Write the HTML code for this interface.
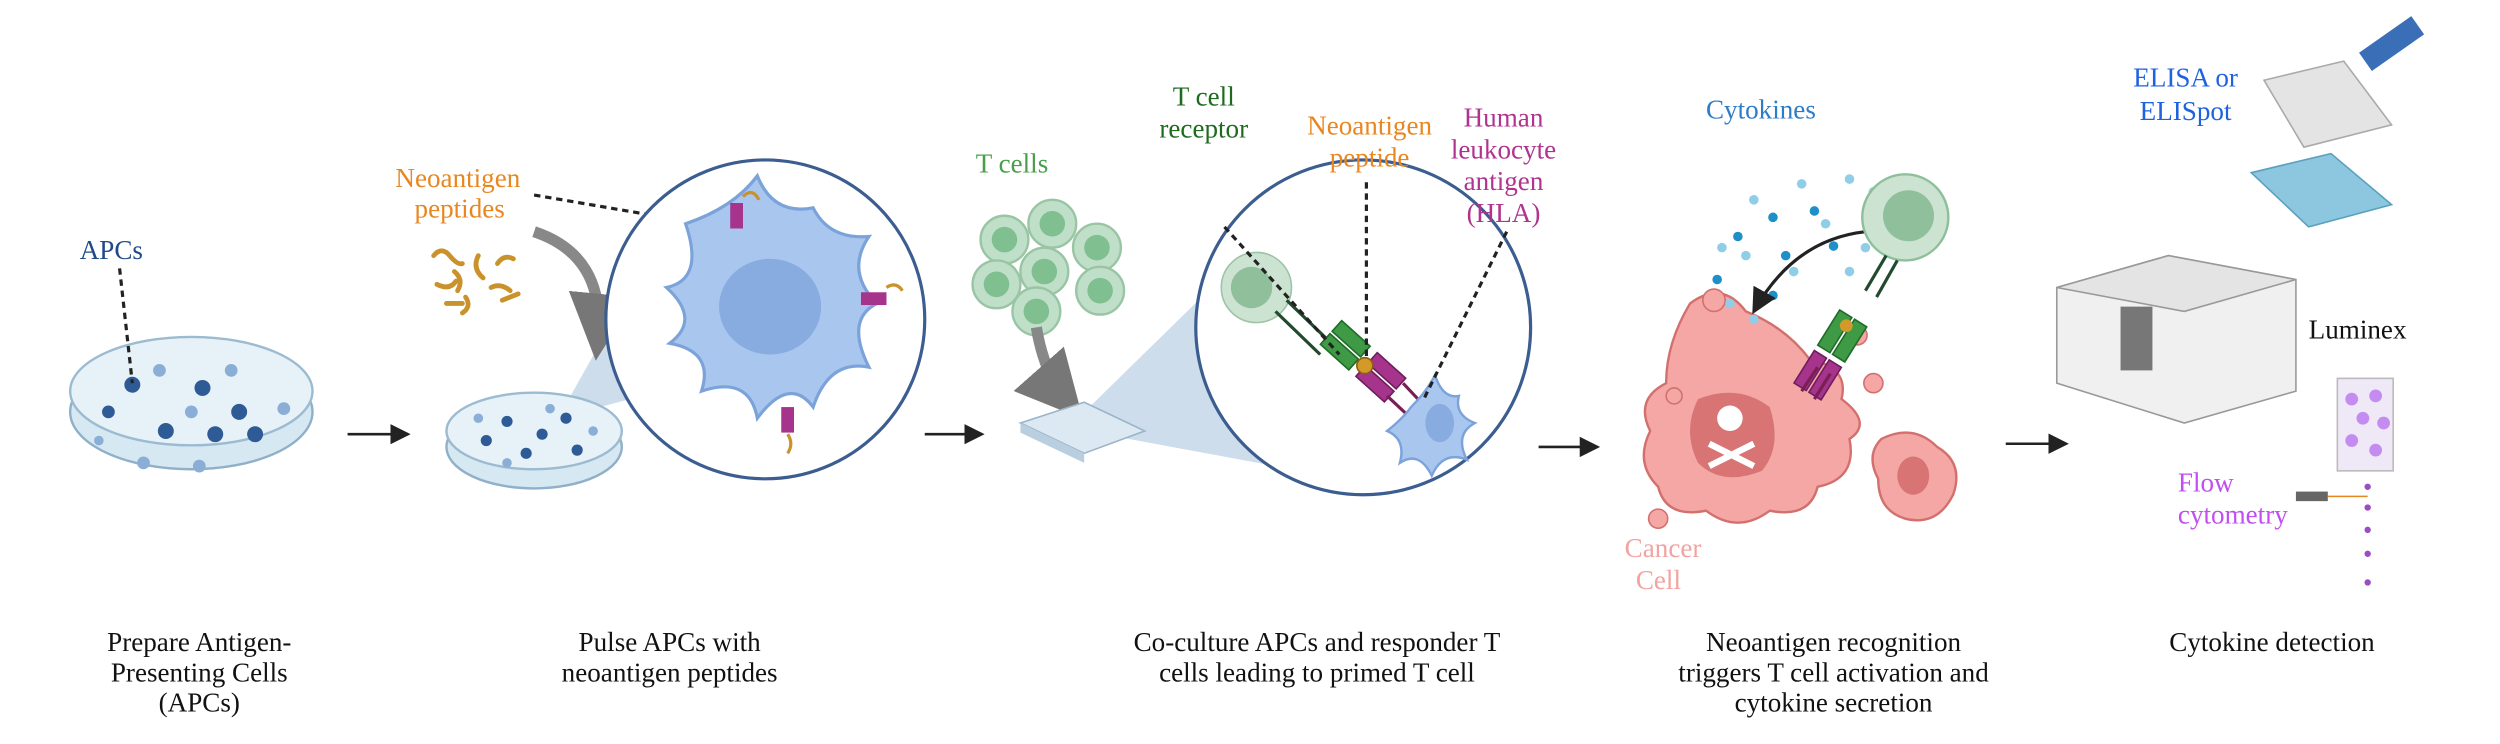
<!DOCTYPE html>
<html><head><meta charset="utf-8"><style>
html,body{margin:0;padding:0;background:#fff}
svg{display:block}
text{font-family:"Liberation Serif",serif}
</style></head><body>
<svg width="2500" height="744" viewBox="0 0 1568 466" xmlns="http://www.w3.org/2000/svg">
<defs>
<marker id="ah" markerWidth="8" markerHeight="8" refX="7" refY="4" orient="auto"><path d="M0,0 L8,4 L0,8 z" fill="#222"/></marker>
<marker id="gh" markerWidth="6" markerHeight="6" refX="4" refY="3" orient="auto"><path d="M0,0 L6,3 L0,6 z" fill="#777"/></marker>
</defs>

<!-- Dish 1 -->
<ellipse cx="120" cy="258" rx="76" ry="36" fill="#d6e8f2" stroke="#8fb0c8" stroke-width="1.5"/>
<ellipse cx="120" cy="245" rx="76" ry="34" fill="#e6f1f8" stroke="#9cbbd1" stroke-width="1.5"/>
<g fill="#2e5a96">
<circle cx="83" cy="241" r="5"/><circle cx="127" cy="243" r="5"/><circle cx="104" cy="270" r="5"/><circle cx="150" cy="258" r="5"/><circle cx="68" cy="258" r="4"/><circle cx="160" cy="272" r="5"/><circle cx="135" cy="272" r="5"/></g>
<g fill="#8aaed6"><circle cx="100" cy="232" r="4"/><circle cx="145" cy="232" r="4"/><circle cx="178" cy="256" r="4"/><circle cx="125" cy="292" r="4"/><circle cx="90" cy="290" r="4"/><circle cx="62" cy="276" r="3"/><circle cx="120" cy="258" r="4"/></g>
<text x="50" y="162" font-size="17" fill="#1f4a8a">APCs</text>
<line x1="75" y1="168" x2="83" y2="240" stroke="#222" stroke-width="2" stroke-dasharray="4,3"/>

<line x1="218" y1="272" x2="256" y2="272" stroke="#222" stroke-width="1.6" marker-end="url(#ah)"/>

<!-- cone 1 -->
<polygon points="350,262 395,250 440,290 410,155" fill="#b8cfe2" opacity="0.7"/>
<!-- dish 2 -->
<ellipse cx="335" cy="280" rx="55" ry="26" fill="#d6e8f2" stroke="#8fb0c8" stroke-width="1.5"/>
<ellipse cx="335" cy="270" rx="55" ry="24" fill="#e6f1f8" stroke="#9cbbd1" stroke-width="1.5"/>
<g fill="#2e5a96"><circle cx="318" cy="264" r="3.5"/><circle cx="340" cy="272" r="3.5"/><circle cx="355" cy="262" r="3.5"/><circle cx="305" cy="276" r="3.5"/><circle cx="330" cy="284" r="3.5"/><circle cx="362" cy="282" r="3.5"/></g>
<g fill="#8aaed6"><circle cx="300" cy="262" r="3"/><circle cx="345" cy="256" r="3"/><circle cx="372" cy="270" r="3"/><circle cx="318" cy="290" r="3"/></g>

<text x="248" y="117" font-size="17" fill="#e8871f">Neoantigen</text>
<text x="260" y="136" font-size="17" fill="#e8871f">peptides</text>
<line x1="335" y1="122" x2="452" y2="142" stroke="#222" stroke-width="2" stroke-dasharray="4,3"/>
<g stroke="#c9922a" stroke-width="3" fill="none" stroke-linecap="round">
<path d="M272,160 q5,-6 10,0 t8,5"/><path d="M285,170 q6,5 2,12"/><path d="M300,160 q-4,8 3,14"/><path d="M274,178 q8,4 12,-2"/><path d="M308,180 q6,-3 12,2"/><path d="M292,186 q4,6 -2,10"/><path d="M312,165 q4,-6 10,-3"/><path d="M280,190 l10,0"/><path d="M315,188 l10,-4"/></g>
<path d="M335,145 Q380,160 375,212" stroke="#888" stroke-width="7" fill="none" marker-end="url(#gh)"/>

<!-- circle 1 -->
<circle cx="480" cy="200" r="100" fill="#fff" stroke="#3b5d8f" stroke-width="2"/>
<path d="M430,140 Q460,130 475,110 Q485,135 510,130 Q520,150 545,148 Q530,170 550,190 Q530,200 545,230 Q520,225 510,255 Q495,235 475,262 Q470,235 440,245 Q448,220 420,215 Q440,200 418,180 Q442,175 430,140z" fill="#a9c6ef" stroke="#7ca3d9" stroke-width="2"/>
<ellipse cx="483" cy="192" rx="32" ry="30" fill="#88abe0"/>
<g fill="#a6338c"><rect x="458" y="127" width="8" height="16"/><rect x="540" y="183" width="16" height="8"/><rect x="490" y="255" width="8" height="16"/></g>
<g stroke="#c9922a" stroke-width="2" fill="none"><path d="M466,123 q6,-6 10,2"/><path d="M556,180 q6,-4 10,2"/><path d="M494,272 q4,6 0,12"/></g>

<line x1="580" y1="272" x2="616" y2="272" stroke="#222" stroke-width="1.6" marker-end="url(#ah)"/>

<!-- T cells -->
<text x="612" y="108" font-size="17" fill="#4a9e4a">T cells</text>
<g fill="#b9dcc3" stroke="#8ebf9b" stroke-width="1.5" opacity="0.9">
<circle cx="630" cy="150" r="15"/><circle cx="660" cy="140" r="15"/><circle cx="688" cy="155" r="15"/><circle cx="625" cy="178" r="15"/><circle cx="655" cy="170" r="15"/><circle cx="690" cy="182" r="15"/><circle cx="650" cy="195" r="15"/></g>
<g fill="#7fbf90"><circle cx="630" cy="150" r="8"/><circle cx="660" cy="140" r="8"/><circle cx="688" cy="155" r="8"/><circle cx="625" cy="178" r="8"/><circle cx="655" cy="170" r="8"/><circle cx="690" cy="182" r="8"/><circle cx="650" cy="195" r="8"/></g>
<path d="M650,205 Q655,235 670,252" stroke="#888" stroke-width="7" fill="none" marker-end="url(#gh)"/>
<polygon points="670,268 765,175 800,292" fill="#b8cfe2" opacity="0.7"/>
<polygon points="640,265 680,252 718,270 680,284" fill="#dde9f2" stroke="#9ab4c9"/>
<polygon points="640,265 680,284 680,290 640,271" fill="#b9cfe0"/>

<!-- circle 2 -->
<circle cx="855" cy="205" r="105" fill="#fff" stroke="#3b5d8f" stroke-width="2"/>
<circle cx="788" cy="180" r="22" fill="#cde3d2" stroke="#9cc4a6"/>
<circle cx="785" cy="180" r="13" fill="#8fbf9b"/>
<g stroke="#214a2e" stroke-width="2"><line x1="800" y1="195" x2="828" y2="222"/><line x1="807" y1="188" x2="835" y2="215"/></g>
<g transform="rotate(42 852 225)">
<rect x="828" y="214" width="24" height="9" fill="#3f9a45" stroke="#1f6b28"/><rect x="828" y="225" width="24" height="9" fill="#3f9a45" stroke="#1f6b28"/>
<rect x="858" y="214" width="24" height="9" fill="#a6338c" stroke="#6d1f5b"/><rect x="858" y="225" width="24" height="9" fill="#a6338c" stroke="#6d1f5b"/></g>
<circle cx="856" cy="229" r="5" fill="#d39a2a" stroke="#8a5f10"/>
<g stroke="#7a1f55" stroke-width="2"><line x1="870" y1="248" x2="885" y2="262"/><line x1="880" y1="240" x2="895" y2="256"/></g>
<path d="M885,255 Q895,245 900,235 Q905,250 915,248 Q912,260 925,265 Q912,272 920,288 Q905,282 898,298 Q890,282 878,290 Q882,275 870,270 Q880,262 885,255z" fill="#a9c6ef" stroke="#7ca3d9" stroke-width="1.5"/>
<ellipse cx="903" cy="265" rx="9" ry="12" fill="#88abe0"/>
<text x="755" y="66" font-size="17" fill="#1e6b1e" text-anchor="middle">T cell</text>
<text x="755" y="86" font-size="17" fill="#1e6b1e" text-anchor="middle">receptor</text>
<text x="859" y="84" font-size="17" fill="#e8871f" text-anchor="middle">Neoantigen</text>
<text x="859" y="104" font-size="17" fill="#e8871f" text-anchor="middle">peptide</text>
<text x="943" y="79" font-size="17" fill="#b0338f" text-anchor="middle">Human</text>
<text x="943" y="99" font-size="17" fill="#b0338f" text-anchor="middle">leukocyte</text>
<text x="943" y="119" font-size="17" fill="#b0338f" text-anchor="middle">antigen</text>
<text x="943" y="139" font-size="17" fill="#b0338f" text-anchor="middle">(HLA)</text>
<g stroke="#222" stroke-width="2" stroke-dasharray="4,3"><line x1="768" y1="142" x2="840" y2="222"/><line x1="857" y1="114" x2="857" y2="225"/><line x1="945" y1="145" x2="893" y2="250"/></g>

<line x1="965" y1="280" x2="1002" y2="280" stroke="#222" stroke-width="1.6" marker-end="url(#ah)"/>

<!-- cancer -->
<path d="M1060,190 Q1080,175 1095,195 Q1120,205 1135,225 Q1160,230 1155,250 Q1175,265 1160,275 Q1165,300 1140,305 Q1135,325 1110,320 Q1090,335 1070,320 Q1045,325 1040,305 Q1025,290 1035,270 Q1025,250 1045,240 Q1045,215 1060,190z" fill="#f4a7a5" stroke="#d2706e" stroke-width="1.5"/>
<path d="M1065,250 Q1090,240 1110,255 Q1118,280 1105,295 Q1080,305 1065,290 Q1055,270 1065,250z" fill="#d87474"/>
<circle cx="1085" cy="262" r="8" fill="#fff"/>
<path d="M1072,278 L1100,292 M1100,278 L1072,292" stroke="#fff" stroke-width="4"/>
<path d="M1180,275 Q1200,265 1215,280 Q1232,290 1225,310 Q1215,330 1195,325 Q1178,320 1178,300 Q1170,285 1180,275z" fill="#f4a7a5" stroke="#d2706e" stroke-width="1.5"/>
<ellipse cx="1200" cy="298" rx="10" ry="12" fill="#d87474"/>
<g fill="#f4a7a5" stroke="#d2706e"><circle cx="1075" cy="188" r="7"/><circle cx="1050" cy="248" r="5"/><circle cx="1040" cy="325" r="6"/><circle cx="1165" cy="210" r="6"/><circle cx="1175" cy="240" r="6"/></g>
<text x="1019" y="349" font-size="17" fill="#f2a2a0">Cancer</text>
<text x="1026" y="369" font-size="17" fill="#f2a2a0">Cell</text>
<text x="1070" y="74" font-size="17" fill="#2e7cc7">Cytokines</text>
<g fill="#1f8fc9"><circle cx="1112" cy="136" r="3"/><circle cx="1150" cy="154" r="3"/><circle cx="1090" cy="148" r="3"/><circle cx="1120" cy="160" r="3"/><circle cx="1077" cy="175" r="3"/><circle cx="1112" cy="185" r="3"/><circle cx="1138" cy="132" r="3"/><circle cx="1180" cy="135" r="3"/></g>
<g fill="#8fcde8"><circle cx="1100" cy="125" r="3"/><circle cx="1130" cy="115" r="3"/><circle cx="1160" cy="112" r="3"/><circle cx="1175" cy="120" r="3"/><circle cx="1145" cy="140" r="3"/><circle cx="1160" cy="170" r="3"/><circle cx="1085" cy="190" r="3"/><circle cx="1100" cy="200" r="3"/><circle cx="1125" cy="170" r="3"/><circle cx="1170" cy="155" r="3"/><circle cx="1095" cy="160" r="3"/><circle cx="1080" cy="155" r="3"/></g>
<path d="M1170,145 Q1125,150 1100,195" stroke="#222" stroke-width="2" fill="none" marker-end="url(#ah)"/>
<circle cx="1195" cy="136" r="27" fill="#cde3d2" stroke="#8ebf9b" stroke-width="1.5"/>
<circle cx="1197" cy="135" r="16" fill="#8fbf9b"/>
<g transform="rotate(-58 1160 205)">
<rect x="1140" y="194" width="26" height="9" fill="#3f9a45" stroke="#1f6b28"/><rect x="1140" y="205" width="26" height="9" fill="#3f9a45" stroke="#1f6b28"/>
<rect x="1112" y="194" width="24" height="9" fill="#a6338c" stroke="#6d1f5b"/><rect x="1112" y="205" width="24" height="9" fill="#a6338c" stroke="#6d1f5b"/></g>
<g stroke="#214a2e" stroke-width="2"><line x1="1183" y1="160" x2="1170" y2="182"/><line x1="1190" y1="163" x2="1177" y2="186"/></g>
<g stroke="#7a1f55" stroke-width="2"><line x1="1140" y1="230" x2="1130" y2="245"/><line x1="1148" y1="234" x2="1138" y2="250"/></g>
<circle cx="1158" cy="204" r="4" fill="#d39a2a"/>

<line x1="1258" y1="278" x2="1296" y2="278" stroke="#222" stroke-width="1.6" marker-end="url(#ah)"/>

<!-- detection -->
<text x="1338" y="54" font-size="17" fill="#1f62e0">ELISA or</text>
<text x="1342" y="75" font-size="17" fill="#1f62e0">ELISpot</text>
<polygon points="1412,108 1462,96 1500,128 1448,142" fill="#8cc7df" stroke="#5aa0bf"/>
<polygon points="1420,50 1470,38 1500,78 1445,92" fill="#e4e4e4" stroke="#aaa"/>
<rect x="1480" y="20" width="40" height="14" fill="#3a6fb8" transform="rotate(-35 1500 27)"/>
<polygon points="1290,180 1360,160 1440,175 1440,245 1370,265 1290,240" fill="#f0f0f0" stroke="#999"/>
<polygon points="1290,180 1360,160 1440,175 1370,195" fill="#e4e4e4" stroke="#999"/>
<rect x="1330" y="192" width="20" height="40" fill="#777"/>
<text x="1448" y="212" font-size="17" fill="#111">Luminex</text>
<rect x="1466" y="237" width="35" height="58" fill="#efe8f6" stroke="#bbb"/>
<g fill="#c48cf0"><circle cx="1475" cy="250" r="4"/><circle cx="1490" cy="248" r="4"/><circle cx="1482" cy="262" r="4"/><circle cx="1495" cy="265" r="4"/><circle cx="1475" cy="276" r="4"/><circle cx="1490" cy="282" r="4"/></g>
<g fill="#9a4ec2"><circle cx="1485" cy="305" r="2"/><circle cx="1485" cy="318" r="2"/><circle cx="1485" cy="332" r="2"/><circle cx="1485" cy="347" r="2"/><circle cx="1485" cy="365" r="2"/></g>
<rect x="1440" y="308" width="20" height="6" fill="#666"/>
<line x1="1460" y1="311" x2="1485" y2="311" stroke="#e8871f"/>
<text x="1366" y="308" font-size="17" fill="#c14ef0">Flow</text>
<text x="1366" y="328" font-size="17" fill="#c14ef0">cytometry</text>

<!-- captions -->
<g font-size="17" fill="#111" text-anchor="middle">
<text x="125" y="408">Prepare Antigen-</text><text x="125" y="427">Presenting Cells</text><text x="125" y="446">(APCs)</text>
<text x="420" y="408">Pulse APCs with</text><text x="420" y="427">neoantigen peptides</text>
<text x="826" y="408">Co-culture APCs and responder T</text><text x="826" y="427">cells leading to primed T cell</text>
<text x="1150" y="408">Neoantigen recognition</text><text x="1150" y="427">triggers T cell activation and</text><text x="1150" y="446">cytokine secretion</text>
<text x="1425" y="408">Cytokine detection</text>
</g>
</svg>
</body></html>
